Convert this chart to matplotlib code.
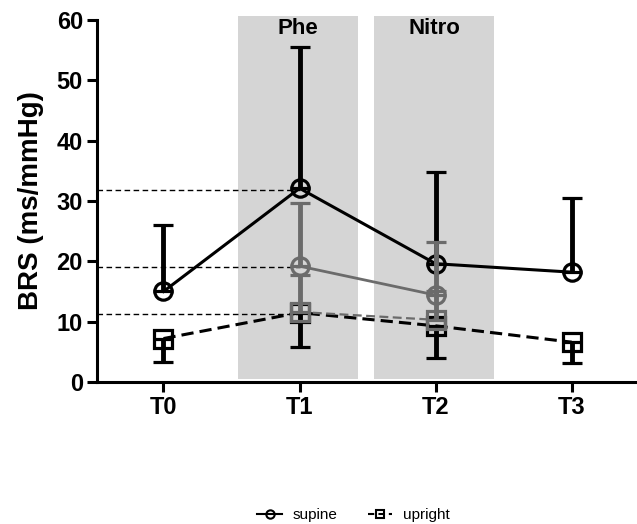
import matplotlib
matplotlib.use("Agg")
import matplotlib.pyplot as plt
from matplotlib.lines import Line2D
from matplotlib.patches import Rectangle

plt.rcParams["font.family"] = ["Liberation Sans", "DejaVu Sans"]

times = ["T0", "T1", "T2", "T3"]
supine_mean = [15.0, 32.1, 19.6, 18.2]
supine_upper = [26.0, 55.5, 34.8, 30.5]
upright_mean = [7.2, 11.5, 9.3, 6.6]
upright_lower = [3.3, 5.8, 4.0, 3.2]

# grey sub-group, only measured at T1 and T2
grey_times = [1, 2]
grey_supine_mean = [19.2, 14.4]
grey_supine_upper = [29.6, 23.2]
grey_upright_mean = [11.6, 10.3]
grey_upright_upper = [17.8, 15.0]

ref_levels = [31.8, 19.1, 11.3]
bands = [("Phe", 0.55, 1.43), ("Nitro", 1.55, 2.43)]

black = "black"
grey = "#6b6b6b"
x = list(range(len(times)))

fig = plt.figure(figsize=(6.37, 5.24), dpi=100)
ax = fig.add_axes((0.152, 0.271, 0.848, 0.691))
ax.set_xlim(-0.49, 3.48)
ax.set_ylim(0, 60)

for name, x0, x1 in bands:
    ax.add_patch(Rectangle((x0, 0.5), x1 - x0, 60.2, color="#d5d5d5", lw=0,
                           clip_on=False, zorder=0))
    ax.text((x0 + x1) / 2, 58.6, name, ha="center", va="center",
            fontsize=16, fontweight="bold", zorder=1)

for lvl in ref_levels:
    ax.plot([-0.49, 1], [lvl, lvl], ls=(0, (4, 2.5)), color=black, lw=1,
            zorder=2, clip_on=False)

ebw = dict(elinewidth=3.5, capsize=7, capthick=3.5, markersize=12.5,
           markeredgewidth=2.3, markerfacecolor="none")

ax.errorbar(x, supine_mean,
            yerr=[[0] * 4, [u - m for u, m in zip(supine_upper, supine_mean)]],
            color=black, lw=2.2, marker="o", zorder=3, **ebw)
ax.errorbar(x, upright_mean,
            yerr=[[m - l for m, l in zip(upright_mean, upright_lower)], [0] * 4],
            color=black, lw=2.2, ls=(0, (4, 2)), marker="s", zorder=3, **ebw)

ax.errorbar(grey_times, grey_supine_mean,
            yerr=[[0, 0], [u - m for u, m in zip(grey_supine_upper, grey_supine_mean)]],
            color=grey, lw=2, marker="o", zorder=4, **ebw)
ax.errorbar(grey_times, grey_upright_mean,
            yerr=[[0, 0], [u - m for u, m in zip(grey_upright_upper, grey_upright_mean)]],
            color=grey, lw=1.6, ls=(0, (4, 2)), marker="s", zorder=4, **ebw)

ax.spines["top"].set_visible(False)
ax.spines["right"].set_visible(False)
ax.spines["left"].set_linewidth(2.2)
ax.spines["bottom"].set_linewidth(2.2)
ax.set_xticks(x)
ax.set_xticklabels(times)
ax.set_yticks(range(0, 61, 10))
ax.tick_params(width=2.2, length=7, labelsize=17, pad=3)
for lab in ax.get_xticklabels() + ax.get_yticklabels():
    lab.set_fontweight("bold")
ax.set_ylabel("BRS (ms/mmHg)", fontsize=20, fontweight="bold", labelpad=9)

handles = [
    Line2D([], [], color=black, lw=1.5, marker="o", markersize=6,
           markerfacecolor="none", markeredgewidth=1.5),
    Line2D([], [], color=black, lw=1.5, ls=(0, (3, 2)), marker="s",
           markersize=6, markerfacecolor="none", markeredgewidth=1.5),
]
fig.legend(handles, ["supine", "upright"], loc="center", ncol=2,
           bbox_to_anchor=(0.555, 0.017), frameon=False, fontsize=11,
           handlelength=1.6, columnspacing=2.0, handletextpad=0.7)

fig.savefig("out.png", dpi=100)
